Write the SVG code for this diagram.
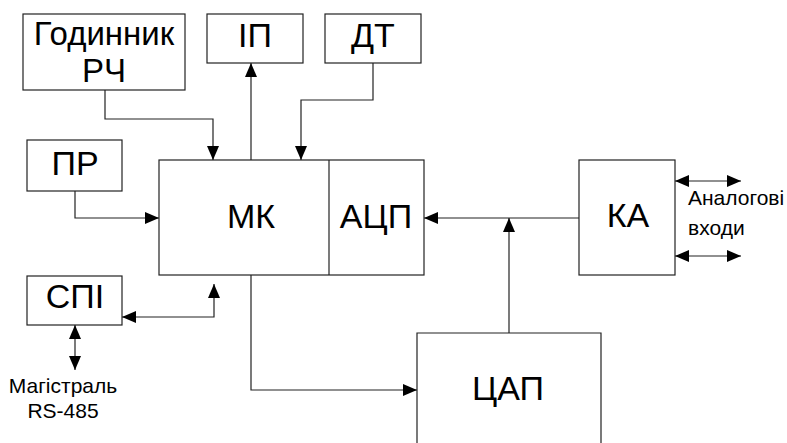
<svg xmlns="http://www.w3.org/2000/svg" width="787" height="443" viewBox="0 0 787 443">
<style>
.box{fill:#fff;stroke:#222;stroke-width:1.2}
.ln{fill:none;stroke:#222;stroke-width:1.2}
.big{font-family:"Liberation Sans",Arial,sans-serif;font-size:34px;fill:#000;text-anchor:middle}
.sm{font-family:"Liberation Sans",Arial,sans-serif;font-size:21px;fill:#000}
</style>
<defs>
<marker id="ah" markerWidth="14" markerHeight="12" refX="14" refY="6" orient="auto-start-reverse" markerUnits="userSpaceOnUse">
<path d="M0,0 L14,6 L0,12 Z" fill="#000"/>
</marker>
</defs>
<rect width="787" height="443" fill="#fff"/>
<g id="connectors">
<path class="ln" d="M105,90 V119 H213 V160" marker-end="url(#ah)"/>
<path class="ln" d="M251,160 V63" marker-end="url(#ah)"/>
<path class="ln" d="M373,63 V100 H301 V160" marker-end="url(#ah)"/>
<path class="ln" d="M75,191 V218 H159" marker-end="url(#ah)"/>
<path class="ln" d="M122,317 H214 V284" marker-start="url(#ah)" marker-end="url(#ah)"/>
<path class="ln" d="M75,325 V370" marker-start="url(#ah)" marker-end="url(#ah)"/>
<path class="ln" d="M251,275 V390 H417" marker-end="url(#ah)"/>
<path class="ln" d="M579,218 H424" marker-end="url(#ah)"/>
<path class="ln" d="M509,333 V218" marker-end="url(#ah)"/>
<path class="ln" d="M675,181 H741" marker-start="url(#ah)" marker-end="url(#ah)"/>
<path class="ln" d="M675,256 H741" marker-start="url(#ah)" marker-end="url(#ah)"/>
</g>
<g id="godynnyk">
<rect class="box" x="23" y="14" width="162" height="76"/>
<text class="big" x="104" y="45" style="font-size:33px">Годинник</text>
<text class="big" x="104" y="82" style="font-size:33px">РЧ</text>
</g>
<g id="ip">
<rect class="box" x="207" y="14" width="96" height="49"/>
<text class="big" x="255" y="47">ІП</text>
</g>
<g id="dt">
<rect class="box" x="325" y="14" width="96" height="49"/>
<text class="big" x="373" y="47">ДТ</text>
</g>
<g id="pr">
<rect class="box" x="27" y="140" width="95" height="51"/>
<text class="big" x="75" y="175">ПР</text>
</g>
<g id="mk">
<rect class="box" x="159" y="160" width="265" height="115"/>
<line class="ln" x1="329" y1="160" x2="329" y2="275"/>
<text class="big" x="251" y="228">МК</text>
<text class="big" x="376" y="228">АЦП</text>
</g>
<g id="spi">
<rect class="box" x="27" y="276" width="95" height="49"/>
<text class="big" x="75" y="308">СПІ</text>
</g>
<g id="rs485">
<text class="sm" x="63" y="393" text-anchor="middle">Магістраль</text>
<text class="sm" x="63" y="418" text-anchor="middle">RS-485</text>
</g>
<g id="ka">
<rect class="box" x="579" y="160" width="96" height="115"/>
<text class="big" x="628" y="227">КА</text>
</g>
<g id="analog">
<text class="sm" x="688" y="205">Аналогові</text>
<text class="sm" x="688" y="235">входи</text>
</g>
<g id="tsap">
<path class="ln" d="M417,445 V333 H601 V445"/>
<text class="big" x="508" y="400">ЦАП</text>
</g>
</svg>
